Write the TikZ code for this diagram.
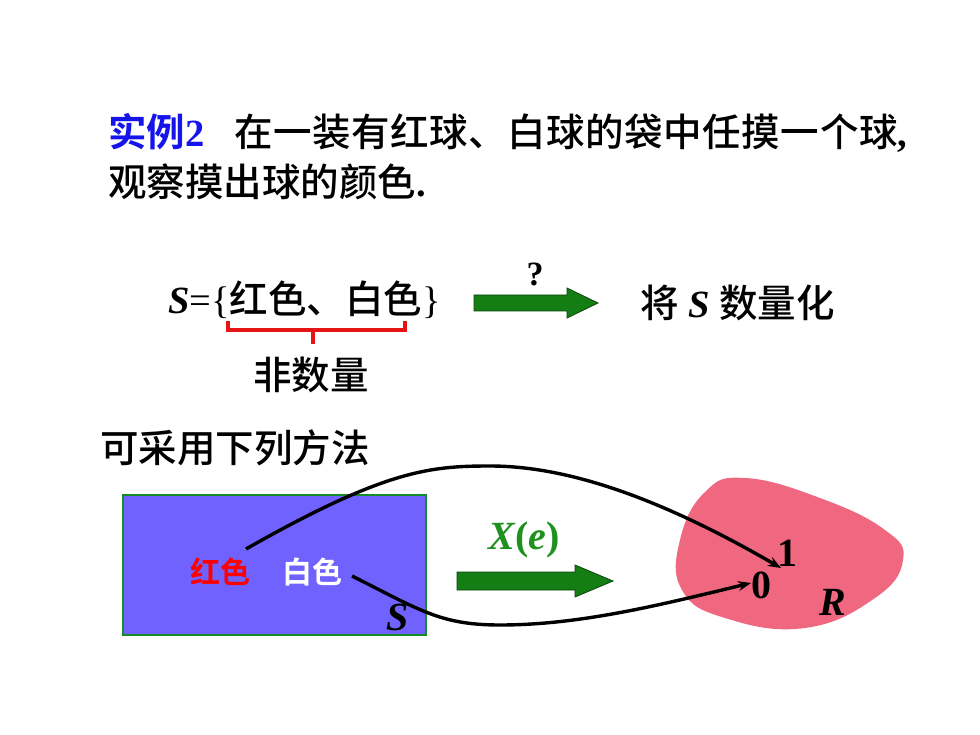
\documentclass[tikz,border=0pt]{standalone}
\usepackage{fontspec}
\setmainfont{Liberation Serif}
\newfontfamily\cjk{Noto Sans CJK SC Medium}
\newfontfamily\cjkb{Noto Sans CJK SC Bold}
\usetikzlibrary{arrows.meta}
\definecolor{titleblue}{RGB}{20,20,235}
\definecolor{arrowgreen}{RGB}{20,125,20}
\definecolor{arrowedge}{RGB}{10,70,10}
\definecolor{xgreen}{RGB}{30,145,30}
\definecolor{boxblue}{RGB}{112,98,255}
\definecolor{boxedge}{RGB}{20,140,40}
\definecolor{blobpink}{RGB}{240,104,128}
\definecolor{bracketred}{RGB}{230,20,20}
\tikzset{
  big/.style={inner sep=0pt, font=\fontsize{38.5}{46}\selectfont},
  mid/.style={inner sep=0pt, font=\fontsize{30}{36}\selectfont},
  lat/.style={inner sep=0pt, font=\fontsize{40}{46}\selectfont\bfseries\itshape},
  digit/.style={inner sep=0pt, font=\fontsize{40}{46}\selectfont\bfseries},
  garrow/.style={fill=arrowgreen, draw=arrowedge, line width=0.8pt},
  mapcurve/.style={line width=3.4pt, -{Stealth[length=13pt,width=10pt]}},
}
\begin{document}
\begin{tikzpicture}[x=1pt,y=-1pt]
\useasboundingbox (0,0) rectangle (980,735);
\fill[white] (0,0) rectangle (980,735);

% title
\node[big, anchor=west] (t1) at (108,133) {{\cjkb\color{titleblue}实例}{\bfseries\color{titleblue}2}\hspace{30pt}{\cjk\addfontfeature{LetterSpace=1.4}在一装有红球、白球的袋中任摸一个球}{\bfseries ,}};
\node[big, anchor=west] (t2) at (108,182) {{\cjk 观察摸出球的颜色}{\bfseries .}};

% set S
\node[big, anchor=west] (set) at (168,300) {{\bfseries\itshape S}={\{}{\cjk 红色、白色}{\}}};
\node[inner sep=0pt, font=\fontsize{34}{40}\selectfont\bfseries] (q) at (535,274) {?};
\node[big, anchor=west] (quant) at (640,303) {{\cjk 将} {\bfseries\itshape S} {\cjk 数量化}};

% bracket
\coordinate (bl) at (228,321);
\coordinate (br) at (405,321);
\coordinate (bm) at (313,330);
\coordinate (bt) at (313,344);
\draw[bracketred, line width=3.4pt] (bl) -- (228,330) -- (405,330) -- (br);
\draw[bracketred, line width=3.4pt] (bm) -- (bt);
\node[big, font=\fontsize{38.5}{46}\selectfont\cjk] (non) at (311,375) {非数量};

% arrow 1
\node[inner sep=0pt] (a1s) at (474,303) {};
\node[inner sep=0pt] (a1t) at (598,303) {};
\draw[garrow] (a1s.center) ++(0,-8) -- (567,295) -- (567,288) -- (a1t.center) -- (567,318) -- (567,311) -- (474,311) -- cycle;

\node[big, anchor=west, font=\fontsize{38.5}{46}\selectfont\cjk] (method) at (100,448) {可采用下列方法};

% box S
\node[draw=boxedge, fill=boxblue, line width=1.5pt, minimum width=303pt, minimum height=140pt, inner sep=0pt, anchor=north west] (box) at (122,494) {};
\node[mid, font=\fontsize{30}{36}\selectfont\cjkb, text=red] (hong) at (220,572) {红色};
\node[mid, font=\fontsize{30}{36}\selectfont\cjkb, text=white] (bai) at (312,572) {白色};
\node[lat] (sS) at (398,617) {S};

% arrow 2
\node[inner sep=0pt, font=\fontsize{40}{46}\selectfont\bfseries, text=xgreen] (xe) at (524,540) {\textit{X}(\textit{e})};
\node[inner sep=0pt] (a2s) at (457,581) {};
\node[inner sep=0pt] (a2t) at (613,581) {};
\draw[garrow] (457,572) -- (575,572) -- (575,565) -- (a2t.center) -- (575,597) -- (575,590) -- (457,590) -- cycle;

% blob R
\fill[blobpink] plot[smooth cycle, tension=0.75] coordinates {(745,478) (820,498) (885,530) (903,560) (875,598) (805,628) (725,618) (682,590) (680,540) (705,492)};
\node[digit] (one) at (787,553) {1};
\node[digit] (zero) at (761,585) {0};
\node[lat] (rR) at (833,602) {R};

% mapping curves
\coordinate (c1s) at (246,549);
\coordinate (c1e) at (781,568);
\coordinate (c2s) at (352,576);
\coordinate (c2e) at (751,583);
\draw[mapcurve] (c1s) .. controls (385,470) and (430,466) .. (490,466) .. controls (560,466) and (650,492) .. (c1e);
\draw[mapcurve] (c2s) .. controls (420,610) and (440,625) .. (500,625) .. controls (580,625) and (660,605) .. (c2e);
\end{tikzpicture}
\end{document}
